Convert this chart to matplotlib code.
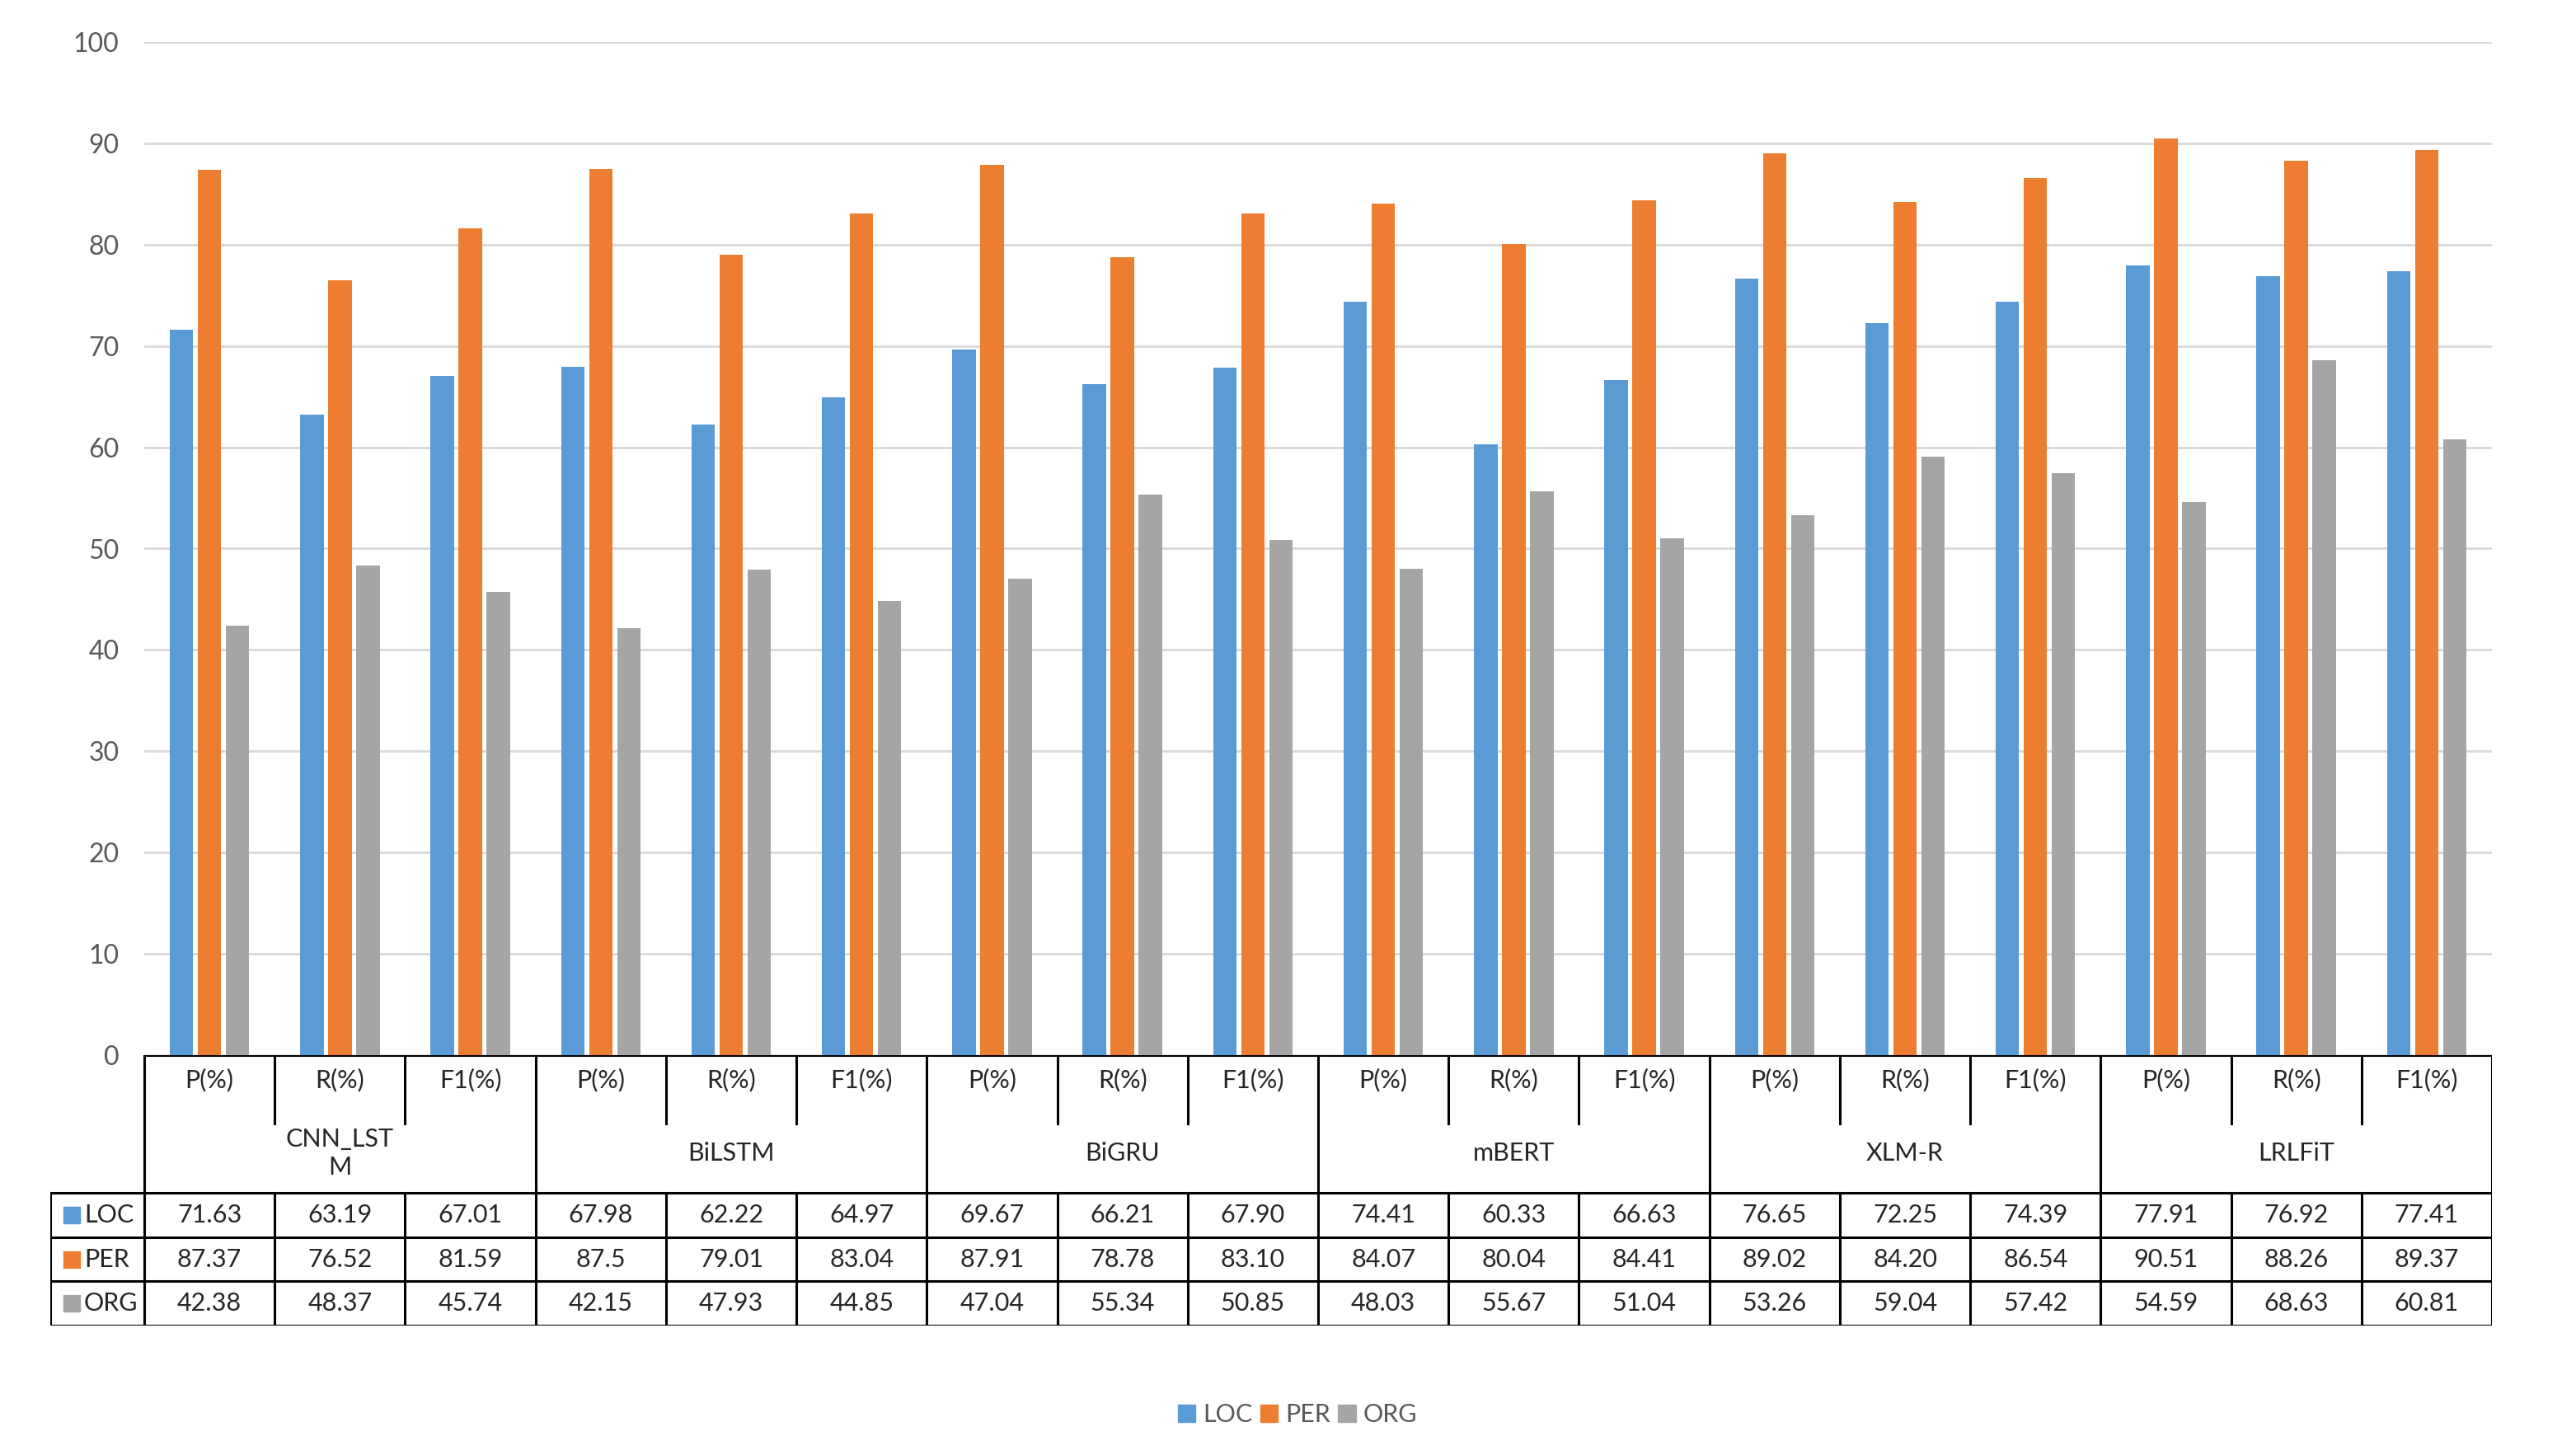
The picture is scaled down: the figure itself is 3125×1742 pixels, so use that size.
import matplotlib.pyplot as plt
from matplotlib.patches import Patch, Rectangle

plt.rcParams['font.family'] = ['Lato', 'DejaVu Sans']

models = ['CNN_LST\nM', 'BiLSTM', 'BiGRU', 'mBERT', 'XLM-R', 'LRLFiT']
metrics = ['P(%)', 'R(%)', 'F1(%)']
series = ['LOC', 'PER', 'ORG']
colors = ['#5B9BD5', '#ED7D31', '#A5A5A5']

loc = [71.63, 63.19, 67.01, 67.98, 62.22, 64.97, 69.67, 66.21, 67.90,
       74.41, 60.33, 66.63, 76.65, 72.25, 74.39, 77.91, 76.92, 77.41]
per = [87.37, 76.52, 81.59, 87.5, 79.01, 83.04, 87.91, 78.78, 83.10,
       84.07, 80.04, 84.41, 89.02, 84.20, 86.54, 90.51, 88.26, 89.37]
org = [42.38, 48.37, 45.74, 42.15, 47.93, 44.85, 47.04, 55.34, 50.85,
       48.03, 55.67, 51.04, 53.26, 59.04, 57.42, 54.59, 68.63, 60.81]
loc_txt = ['71.63', '63.19', '67.01', '67.98', '62.22', '64.97', '69.67', '66.21', '67.90',
           '74.41', '60.33', '66.63', '76.65', '72.25', '74.39', '77.91', '76.92', '77.41']
per_txt = ['87.37', '76.52', '81.59', '87.5', '79.01', '83.04', '87.91', '78.78', '83.10',
           '84.07', '80.04', '84.41', '89.02', '84.20', '86.54', '90.51', '88.26', '89.37']
org_txt = ['42.38', '48.37', '45.74', '42.15', '47.93', '44.85', '47.04', '55.34', '50.85',
           '48.03', '55.67', '51.04', '53.26', '59.04', '57.42', '54.59', '68.63', '60.81']

W, H = 3125, 1742
fig = plt.figure(figsize=(W / 100, H / 100), dpi=100)

# plot area in pixels
x0, x1 = 175, 3023
y_top, y_zero = 51, 1280
ax = fig.add_axes([x0 / W, 1 - y_zero / H, (x1 - x0) / W, (y_zero - y_top) / H])

n = len(loc)
xs = list(range(n))
bw = 0.18
off = 0.215
for i, (vals, c, s) in enumerate(zip([loc, per, org], colors, series)):
    ax.bar([x + (i - 1) * off for x in xs], vals, width=bw, color=c, label=s, zorder=3)

ax.set_xlim(-0.5, n - 0.5)
ax.set_ylim(0, 100)
ax.set_yticks(range(0, 101, 10))
ax.yaxis.grid(True, color='#D9D9D9', linewidth=2, zorder=0)
ax.set_axisbelow(True)
ax.set_xticks([])
for sp in ax.spines.values():
    sp.set_visible(False)
ax.tick_params(axis='y', length=0, pad=22, labelsize=23, labelcolor='#595959')

# data table under the bars
tx0 = 61
cell = (x1 - x0) / n
left = -0.5 - (x0 - tx0) / cell
t_bot = 1608
tab = fig.add_axes([tx0 / W, 1 - t_bot / H, (x1 - tx0) / W, (t_bot - y_zero) / H])
tab.set_xlim(left, n - 0.5)
tab.set_ylim(t_bot, y_zero)
tab.axis('off')

lw = 2.2
hdr_mid = 1363
hdr_bot = 1447
row_h = (t_bot - hdr_bot) / 3
kw = dict(color='black', linewidth=lw, solid_capstyle='projecting')

tab.plot([-0.5, n - 0.5], [y_zero, y_zero], **kw)
for r in range(4):
    yy = hdr_bot + r * row_h
    tab.plot([left, n - 0.5], [yy, yy], **kw)
tab.plot([left, left], [hdr_bot, t_bot], **kw)
for k in range(n + 1):
    xx = k - 0.5
    if k % 3 == 0:
        tab.plot([xx, xx], [y_zero, t_bot], **kw)
    else:
        tab.plot([xx, xx], [y_zero, hdr_mid], **kw)
        tab.plot([xx, xx], [hdr_bot, t_bot], **kw)

fs = 22
for k in range(n):
    tab.text(k, 1310, metrics[k % 3], ha='center', va='center', fontsize=fs, color='#262626')
for g, name in enumerate(models):
    tab.text(3 * g + 1, 1399, name, ha='center', va='center', fontsize=fs,
             color='#262626', linespacing=1.3)

for r, (txts, c, s) in enumerate(zip([loc_txt, per_txt, org_txt], colors, series)):
    yc = hdr_bot + r * row_h + row_h / 2
    sq = 20 / cell
    tab.add_patch(Rectangle((left + 16 / cell, yc - 10), sq, 20, color=c))
    tab.text(left + 41 / cell, yc, s, ha='left', va='center', fontsize=fs, color='#262626')
    for k in range(n):
        tab.text(k, yc, txts[k], ha='center', va='center', fontsize=fs, color='#262626')

handles = [Patch(color=c, label=s) for c, s in zip(colors, series)]
fig.legend(handles=handles, loc='center', bbox_to_anchor=(1574 / W, 1 - 1716 / H), ncol=3,
           frameon=False, fontsize=22, labelcolor='#595959', handlelength=0.7,
           handleheight=0.7, handletextpad=0.3, columnspacing=0.3)

fig.savefig('out.png', dpi=100, facecolor='white')
